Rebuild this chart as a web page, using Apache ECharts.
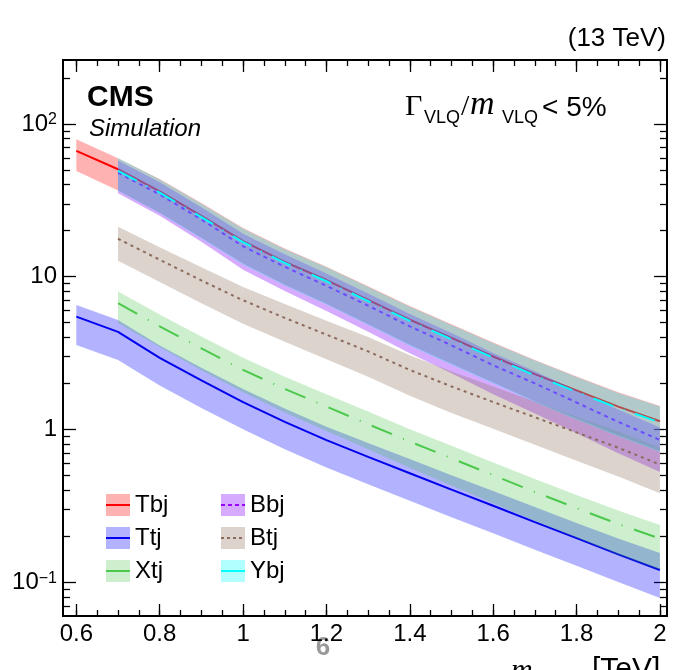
<!DOCTYPE html>
<html>
<head>
<meta charset="utf-8">
<script src="https://cdn.jsdelivr.net/npm/echarts@6/dist/echarts.min.js"></script>
<style>
  html, body { margin: 0; padding: 0; background: #fff; }
  #main { width: 683px; height: 670px; }
</style>
</head>
<body>
<div id="main"></div>
<script>
// mass points (TeV)
var massT = [0.6, 0.7, 0.8, 0.9, 1.0, 1.1, 1.2, 1.3, 1.4, 1.5, 1.6, 1.7, 1.8, 1.9, 2.0];
var massV = [0.7, 0.8, 0.9, 1.0, 1.1, 1.2, 1.3, 1.4, 1.5, 1.6, 1.7, 1.8, 1.9, 2.0];

// Tbj (massT)
var tbj   = [66.6, 50.5, 36.2, 25.0, 17.1, 12.5, 9.5, 7.05, 5.22, 3.97, 3.0, 2.3, 1.8, 1.41, 1.13];
var tbjHi = [79.4, 59.6, 43.6, 30.3, 20.8, 15.3, 11.6, 8.65, 6.42, 4.88, 3.71, 2.85, 2.22, 1.75, 1.42];
var tbjLo = [49.2, 36.6, 26.2, 18.0, 12.2, 8.85, 6.65, 4.88, 3.58, 2.69, 2.03, 1.53, 1.18, 0.915, 0.725];
// Ttj (massT)
var ttj   = [5.47, 4.35, 2.94, 2.09, 1.51, 1.12, 0.851, 0.661, 0.516, 0.403, 0.316, 0.247, 0.194, 0.152, 0.120];
var ttjHi = [6.53, 5.21, 3.54, 2.53, 1.84, 1.37, 1.04, 0.815, 0.640, 0.501, 0.395, 0.310, 0.244, 0.193, 0.155];
var ttjLo = [3.57, 2.85, 1.94, 1.38, 1.0, 0.741, 0.562, 0.437, 0.341, 0.266, 0.209, 0.163, 0.128, 0.100, 0.0787];
// Xtj (massV)
var xtj   = [6.70, 4.73, 3.39, 2.45, 1.84, 1.41, 1.08, 0.832, 0.646, 0.501, 0.389, 0.305, 0.240, 0.193];
var xtjHi = [7.98, 5.65, 4.05, 2.94, 2.21, 1.70, 1.31, 1.0, 0.782, 0.608, 0.473, 0.372, 0.294, 0.237];
var xtjLo = [4.97, 3.46, 2.44, 1.75, 1.29, 0.977, 0.740, 0.560, 0.429, 0.328, 0.251, 0.195, 0.151, 0.120];
// Bbj (massV)
var bbj   = [47.9, 34.5, 23.7, 15.8, 11.6, 8.71, 6.46, 4.73, 3.55, 2.63, 2.0, 1.50, 1.12, 0.853];
var bbjHi = [57.5, 41.5, 28.5, 19.1, 14.0, 10.5, 7.76, 5.69, 4.27, 3.16, 2.40, 1.80, 1.35, 1.03];
var bbjLo = [35.1, 25.0, 16.9, 11.1, 8.05, 5.96, 4.36, 3.15, 2.33, 1.70, 1.27, 0.942, 0.697, 0.526];
// Btj (massV)
var btj   = [17.7, 12.9, 9.44, 7.0, 5.37, 4.17, 3.24, 2.45, 1.91, 1.51, 1.20, 0.955, 0.759, 0.589];
var btjHi = [21.2, 15.6, 11.5, 8.55, 6.61, 5.15, 4.02, 3.06, 2.39, 1.91, 1.52, 1.21, 0.968, 0.759];
var btjLo = [12.7, 9.23, 6.7, 4.92, 3.74, 2.88, 2.21, 1.66, 1.28, 1.01, 0.793, 0.624, 0.491, 0.382];
// Ybj (massV)
var ybj   = [49.2, 35.5, 24.5, 16.8, 12.3, 9.33, 6.92, 5.13, 3.89, 2.95, 2.26, 1.76, 1.38, 1.11];
var ybjHi = [59.8, 43.3, 30.0, 20.6, 15.1, 11.5, 8.55, 6.35, 4.83, 3.67, 2.82, 2.20, 1.73, 1.41];
var ybjLo = [36.5, 26.0, 17.8, 12.0, 8.75, 6.56, 4.82, 3.53, 2.65, 2.0, 1.51, 1.16, 0.90, 0.715];

// ticks
var xMajor = [0.6, 0.8, 1, 1.2, 1.4, 1.6, 1.8, 2];
var xMinor = [0.6, 0.65, 0.7, 0.75, 0.8, 0.85, 0.9, 0.95, 1, 1.05, 1.1, 1.15, 1.2, 1.25, 1.3, 1.35,
              1.4, 1.45, 1.5, 1.55, 1.6, 1.65, 1.7, 1.75, 1.8, 1.85, 1.9, 1.95, 2];
var yMajor = [0.1, 1, 10, 100];
var yMinor = [0.07, 0.08, 0.09, 0.2, 0.3, 0.4, 0.5, 0.6, 0.7, 0.8, 0.9,
              2, 3, 4, 5, 6, 7, 8, 9, 20, 30, 40, 50, 60, 70, 80, 90, 200];

var X_MIN = 0.568, X_MAX = 2.017, Y_MIN = 0.06, Y_MAX = 262;
var FONT = 'Liberation Sans, Arial, sans-serif';
var SERIF = 'Liberation Serif, Times New Roman, serif';

function bandSeries(name, xs, lo, hi, fill, z) {
  return {
    type: 'custom', name: name + ' band', z: z, silent: true,
    data: xs.map(function (x, i) { return [x, lo[i], hi[i]]; }),
    encode: { x: 0, y: [1, 2] },
    clip: true,
    renderItem: function (params, api) {
      if (params.dataIndex !== 0) return;
      var pts = [];
      for (var i = 0; i < xs.length; i++) pts.push(api.coord([xs[i], hi[i]]));
      for (var j = xs.length - 1; j >= 0; j--) pts.push(api.coord([xs[j], lo[j]]));
      return { type: 'polygon', shape: { points: pts }, style: { fill: fill } };
    }
  };
}

function lineSeries(name, xs, ys, color, type, z) {
  return {
    type: 'line', name: name, z: z, symbol: 'none', silent: true,
    data: xs.map(function (x, i) { return [x, ys[i]]; }),
    lineStyle: { color: color, width: 2, type: type }
  };
}

function xAxisDef(pos, ticks, len, labels) {
  return {
    type: 'value', position: pos, min: X_MIN, max: X_MAX,
    axisLine: { show: true, onZero: false, lineStyle: { color: '#000', width: 2 } },
    axisTick: { show: true, inside: true, length: len, customValues: ticks, lineStyle: { color: '#000', width: 1.3 } },
    axisLabel: labels ? { show: true, customValues: ticks, color: '#000', fontSize: 24, fontFamily: FONT, margin: 6 } : { show: false },
    splitLine: { show: false }
  };
}

function yAxisDef(pos, ticks, len, labels) {
  return {
    type: 'log', logBase: 10, position: pos, min: Y_MIN, max: Y_MAX,
    axisLine: { show: true, onZero: false, lineStyle: { color: '#000', width: 2 } },
    axisTick: { show: true, inside: true, length: len, customValues: ticks, lineStyle: { color: '#000', width: 1.3 } },
    axisLabel: labels ? {
      show: true, customValues: ticks, color: '#000', fontSize: 24, fontFamily: FONT, margin: 6,
      formatter: function (v) {
        if (Math.abs(v - 100) < 1e-6) return '10{sup|2}';
        if (Math.abs(v - 10) < 1e-6) return '10';
        if (Math.abs(v - 1) < 1e-6) return '1';
        if (Math.abs(v - 0.1) < 1e-6) return '10{sup|\u22121}';
        return '';
      },
      rich: { sup: { fontSize: 16, fontFamily: FONT, color: '#000', verticalAlign: 'top', lineHeight: 24, padding: [0, 0, 8, 0] } }
    } : { show: false },
    splitLine: { show: false }
  };
}

function legendItem(x, y, label, fill, color, dash) {
  return [
    { type: 'rect', shape: { x: x, y: y, width: 24, height: 22 }, style: { fill: fill } },
    { type: 'line', shape: { x1: x, y1: y + 11, x2: x + 24, y2: y + 11 }, style: { stroke: color, lineWidth: 2, lineDash: dash } },
    { type: 'text', x: x + 29, y: y + 11, style: { text: label, font: '24px ' + FONT, fill: '#000', textVerticalAlign: 'middle' } }
  ];
}

function label(x, y, text, font) {
  return { type: 'text', x: x, y: y, style: { text: text, font: font, fill: '#000', textVerticalAlign: 'middle' } };
}

var cTbj = '#ff0000', cTtj = '#0000ee', cXtj = '#4cc84c', cBbj = '#9900ff', cBtj = '#8c6b5c', cYbj = '#00ffff';
var fTbj = 'rgba(255,0,0,0.3)', fTtj = 'rgba(0,0,255,0.3)', fXtj = 'rgba(60,190,60,0.25)',
    fBbj = 'rgba(130,0,255,0.33)', fBtj = 'rgba(140,110,90,0.3)', fYbj = 'rgba(0,255,255,0.3)';

var chart = echarts.init(document.getElementById('main'));
chart.setOption({
  animation: false,
  backgroundColor: '#fff',
  grid: { left: 63, right: 16, top: 60, bottom: 54, containLabel: false },
  xAxis: [
    xAxisDef('bottom', xMajor, 12, true),
    xAxisDef('bottom', xMinor, 6, false),
    xAxisDef('top', xMajor, 12, false),
    xAxisDef('top', xMinor, 6, false)
  ],
  yAxis: [
    yAxisDef('left', yMajor, 13, true),
    yAxisDef('left', yMinor, 7, false),
    yAxisDef('right', yMajor, 13, false),
    yAxisDef('right', yMinor, 7, false)
  ],
  // each sample: band then its line, in legend order (later bands tint earlier lines)
  series: [
    bandSeries('Tbj', massT, tbjLo, tbjHi, fTbj, 1),
    lineSeries('Tbj', massT, tbj, cTbj, 'solid', 2),
    bandSeries('Ttj', massT, ttjLo, ttjHi, fTtj, 3),
    lineSeries('Ttj', massT, ttj, cTtj, 'solid', 4),
    bandSeries('Xtj', massV, xtjLo, xtjHi, fXtj, 5),
    lineSeries('Xtj', massV, xtj, cXtj, [22, 12, 1, 12], 6),
    bandSeries('Bbj', massV, bbjLo, bbjHi, fBbj, 7),
    lineSeries('Bbj', massV, bbj, cBbj, [4, 4], 8),
    bandSeries('Btj', massV, btjLo, btjHi, fBtj, 9),
    lineSeries('Btj', massV, btj, cBtj, [3, 4], 10),
    bandSeries('Ybj', massV, ybjLo, ybjHi, fYbj, 11),
    lineSeries('Ybj', massV, ybj, cYbj, [21, 11, 1, 11], 12)
  ],
  graphic: [].concat(
    [
      { type: 'text', x: 87, y: 98, style: { text: 'CMS', font: 'bold 30px ' + FONT, fill: '#000', textVerticalAlign: 'middle' } },
      { type: 'text', x: 89, y: 129, style: { text: 'Simulation', font: 'italic 24px ' + FONT, fill: '#000', textVerticalAlign: 'middle' } },
      { type: 'text', x: 666, y: 39, style: { text: '(13 TeV)', font: '26px ' + FONT, fill: '#000', textAlign: 'right', textVerticalAlign: 'middle' } },
      label(405, 107, '\u0393', '30px ' + SERIF),
      label(424, 118, 'VLQ', '18px ' + FONT),
      label(461, 107, '/', '30px ' + SERIF),
      label(470, 105, 'm', 'italic 34px ' + SERIF),
      label(502, 118, 'VLQ', '18px ' + FONT),
      label(542, 108, '< 5%', '28px ' + FONT),
      { type: 'text', x: 323, y: 648, style: { text: '6', font: 'bold 26px ' + FONT, fill: '#999', textAlign: 'center', textVerticalAlign: 'middle' } },
      { type: 'text', x: 511, y: 656, style: { text: 'm', font: 'italic 30px ' + SERIF, fill: '#000' } },
      { type: 'text', x: 592, y: 655, style: { text: '[TeV]', font: '30px ' + FONT, fill: '#000' } }
    ],
    legendItem(106, 494, 'Tbj', fTbj, cTbj, null),
    legendItem(106, 527, 'Ttj', fTtj, cTtj, null),
    legendItem(106, 560, 'Xtj', fXtj, cXtj, null),
    legendItem(221, 494, 'Bbj', fBbj, cBbj, [4, 3]),
    legendItem(221, 527, 'Btj', fBtj, cBtj, [3, 3]),
    legendItem(221, 560, 'Ybj', fYbj, cYbj, null)
  )
});
</script>
</body>
</html>
